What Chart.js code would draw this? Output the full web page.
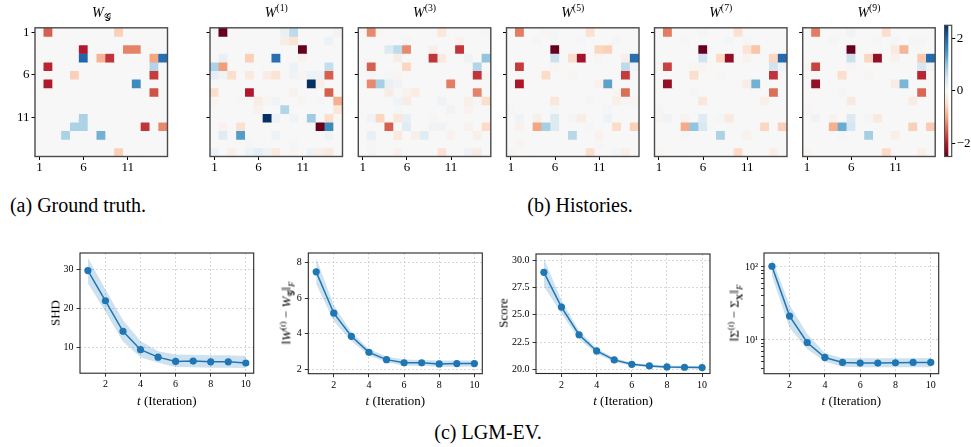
<!DOCTYPE html>
<html>
<head>
<meta charset="utf-8">
<script src="https://cdn.jsdelivr.net/npm/chart.js@4.4.0/dist/chart.umd.min.js"></script>
<style>
  html, body { margin: 0; padding: 0; background: #fff; }
  #fig { position: relative; width: 971px; height: 447px; overflow: hidden;
         font-family: "Liberation Serif", "DejaVu Serif", serif; color: #000; }
  #fig canvas { position: absolute; }
  .lbl { position: absolute; white-space: nowrap; line-height: 1; transform: translate(-50%, -50%); }
  .rot { transform: translate(-50%, -50%) rotate(-90deg); }
  .ttl { font-size: 14px; }
  .axl { font-size: 13px; }
  .cap { font-size: 20px; }
  sup, sub { font-size: 70%; line-height: 0; }
</style>
</head>
<body>
<div id="fig"></div>
<script>
// ---- data ----
const gridSize = 15;
const axisTicks = ['1', '6', '11'];
const colorTicks = [-2, 0, 2];
const vmin = -2.5, vmax = 2.5;

// heatmap entries as [row, col, value]; cells not listed are 0
const wTruth = [
  [0,1,-1.5],[0,9,-0.6],
  [2,5,-2.0],[2,10,-1.25],[2,11,-1.25],
  [3,5,2.0],[3,7,-0.85],[3,8,-1.8],[3,13,-1.0],[3,14,1.9],
  [4,1,-1.9],[4,13,0.75],
  [5,4,-0.6],[5,13,-1.75],
  [6,1,-2.0],[6,11,1.6],
  [7,13,-1.6],
  [10,5,0.8],
  [11,4,0.8],[11,5,0.8],[11,12,-1.8],[11,14,-1.2],
  [12,3,0.8],[12,7,1.2],
  [14,9,-0.6]
];
const w1 = [
  [0,1,-2.5],[0,8,0.2],[0,9,0.65],[0,14,-0.1],
  [1,8,-0.2],[1,9,-0.35],[1,13,0.15],
  [2,10,-2.5],
  [3,1,0.2],[3,4,-0.6],[3,7,1.9],[3,10,-0.1],
  [4,0,0.8],[4,1,-1.05],[4,9,0.15],[4,13,0.6],
  [5,0,0.25],[5,1,0.1],[5,2,-0.45],[5,4,-0.25],[5,6,-0.2],[5,7,-0.35],[5,9,0.1],[5,10,-0.05],[5,11,0.15],[5,12,0.15],[5,13,-1.5],
  [6,11,2.5],[6,12,-0.15],
  [7,0,-0.45],[7,4,-2.0],[7,9,-0.1],[7,13,-1.5],
  [8,0,-0.05],[8,3,0.05],[8,5,-0.2],[8,6,-0.05],[8,7,0.1],[8,10,-0.05],[8,12,0.05],[8,14,-0.9],
  [9,5,-0.1],[9,8,0.75],[9,14,-0.3],
  [10,6,2.5],[10,7,0.15],[10,9,0.1],[10,11,0.9],[10,13,-0.45],
  [11,1,-0.1],[11,3,-0.4],[11,12,-2.5],[11,13,1.6],
  [12,1,0.3],[12,3,1.4],[12,7,0.15],[12,13,0.1],
  [13,4,0.05],[13,9,0.05],
  [14,0,0.15],[14,2,-0.15],[14,4,0.15],[14,5,0.25],[14,6,0.1],[14,7,-0.25],[14,9,-0.05],[14,11,0.15],[14,12,-0.15],[14,13,-0.25]
];
const w3 = [
  [0,1,-1.2],[0,2,-0.05],[0,9,-0.3],[0,14,-0.05],
  [1,5,0.05],[1,11,-0.1],
  [2,3,0.35],[2,4,0.65],[2,5,-1.2],[2,8,-0.15],[2,11,-1.8],
  [3,4,-0.2],[3,8,-1.8],[3,9,-0.25],[3,12,0.1],[3,14,1.0],
  [4,1,-1.5],[4,5,-0.55],[4,13,0.75],
  [5,1,0.05],[5,3,0.05],[5,4,-0.05],[5,13,-1.8],[5,14,-0.05],
  [6,1,-1.2],[6,2,0.85],[6,3,0.2],[6,4,0.1],[6,10,-1.3],
  [7,3,-0.2],[7,5,-0.1],[7,6,-0.2],[7,13,-1.25],
  [8,4,0.1],[8,5,-0.2],[8,9,0.1],[8,12,-0.15],[8,13,0.05],[8,14,-0.45],
  [9,4,0.05],[9,10,0.1],[9,12,-0.1],
  [10,1,0.1],[10,2,-0.55],[10,4,-0.3],[10,5,0.2],[10,8,-0.05],
  [11,3,-1.5],[11,5,0.3],[11,8,0.1],[11,9,0.1],[11,12,-0.1],[11,14,-0.5],
  [12,1,0.2],[12,4,-0.25],[12,6,-0.15],[12,7,0.3],[12,10,-0.1],[12,13,-0.15],
  [13,1,-0.05],
  [14,1,0.05],[14,4,-0.1],[14,9,-0.35],[14,12,0.15],[14,13,-0.2]
];
const w5 = [
  [0,1,-1.3],[0,4,-0.05],[0,5,0.05],[0,9,-0.4],
  [1,3,0.05],[1,5,0.05],[1,8,0.05],[1,12,0.05],
  [2,5,-2.5],[2,10,-0.55],[2,11,-0.6],
  [3,5,0.55],[3,7,-0.45],[3,8,-2.1],[3,10,-0.05],[3,13,-0.15],[3,14,1.9],
  [4,1,-1.75],[4,5,-0.05],[4,13,0.65],[4,14,0.1],
  [5,4,-0.5],[5,7,-0.05],[5,13,-1.75],
  [6,1,-2.05],[6,10,-0.1],[6,11,1.35],
  [7,12,-0.05],[7,13,-1.4],
  [8,5,-0.3],[8,9,0.05],[8,12,-0.15],[8,13,0.05],[8,14,-0.05],
  [9,0,-0.05],[9,5,0.05],[9,11,0.05],
  [10,1,0.1],[10,3,-0.15],[10,5,0.35],[10,7,0.05],[10,8,-0.2],[10,11,0.15],
  [11,1,-0.1],[11,3,-1.0],[11,4,0.85],[11,5,0.35],[11,9,0.05],[11,12,-0.5],[11,14,-0.6],
  [12,7,0.7],[12,10,-0.1],
  [13,1,-0.05],[13,10,-0.05],
  [14,0,-0.05],[14,9,-0.45],[14,12,0.05],[14,13,-0.15]
];
const w7 = [
  [0,1,-1.3],[0,5,0.05],[0,9,-0.4],
  [1,3,0.05],[1,8,0.05],[1,10,0.05],
  [2,5,-2.5],[2,10,-0.35],[2,11,-0.7],
  [3,5,0.5],[3,7,-0.5],[3,8,-2.2],[3,10,-0.1],[3,13,-0.55],[3,14,1.95],
  [4,0,-0.05],[4,1,-1.7],[4,4,-0.05],[4,5,-0.05],[4,13,0.5],[4,14,0.1],
  [5,4,-0.45],[5,7,-0.05],[5,13,-1.8],
  [6,1,-2.2],[6,10,-0.2],[6,11,1.2],
  [7,4,0.05],[7,13,-1.4],
  [8,5,-0.3],[8,12,-0.15],
  [9,0,-0.05],
  [10,0,-0.05],[10,1,0.1],[10,3,-0.1],[10,5,0.3],[10,7,0.05],[10,8,-0.25],
  [11,3,-0.95],[11,4,1.0],[11,5,0.4],[11,12,-0.55],[11,14,-0.6],
  [12,3,0.05],[12,7,0.8],[12,10,-0.1],
  [14,0,-0.05],[14,9,-0.5],[14,13,-0.15]
];
const w9 = [
  [0,1,-1.3],[0,5,0.1],[0,9,-0.45],
  [1,3,0.05],[1,8,0.05],[1,10,0.05],[1,12,0.05],[1,13,-0.05],
  [2,5,-2.5],[2,10,-0.25],[2,11,-0.85],
  [3,5,0.55],[3,7,-0.55],[3,8,-2.2],[3,10,-0.1],[3,13,-0.65],[3,14,1.95],
  [4,0,-0.05],[4,1,-1.7],[4,5,-0.05],[4,13,0.45],[4,14,0.1],
  [5,4,-0.45],[5,7,-0.05],[5,13,-1.9],
  [6,1,-2.2],[6,10,-0.2],[6,11,1.15],
  [7,4,0.05],[7,13,-1.45],
  [8,5,-0.25],[8,12,-0.2],
  [9,0,-0.05],
  [10,1,0.1],[10,3,-0.1],[10,5,0.35],[10,7,0.05],[10,8,-0.25],
  [11,3,-0.9],[11,4,1.25],[11,5,0.45],[11,12,-0.6],[11,14,-0.65],
  [12,4,0.05],[12,7,0.85],[12,10,-0.15],
  [14,0,-0.05],[14,9,-0.5],[14,13,-0.15]
];

// LGM-EV curves: mean and shaded band per iteration
const iterations = [1, 2, 3, 4, 5, 6, 7, 8, 9, 10];
const iterTicks = [2, 4, 6, 8, 10];
const shdMean  = [29.6, 21.9, 14.1, 9.4, 7.5, 6.4, 6.5, 6.3, 6.3, 6.0];
const shdUpper = [32.9, 24.8, 16.9, 11.6, 9.0, 8.2, 8.1, 8.0, 8.0, 7.8];
const shdLower = [26.4, 19.1, 11.5, 7.5, 6.1, 5.0, 4.9, 4.8, 4.8, 4.7];
const shdTicks = [10, 20, 30];
const errMean  = [7.48, 5.16, 3.86, 2.96, 2.55, 2.37, 2.37, 2.31, 2.33, 2.33];
const errUpper = [8.25, 5.6, 4.1, 3.15, 2.72, 2.56, 2.53, 2.5, 2.5, 2.5];
const errLower = [6.8, 4.7, 3.6, 2.78, 2.4, 2.2, 2.2, 2.15, 2.15, 2.15];
const errTicks = [2, 4, 6, 8];
const scoreMean  = [28.88, 25.7, 23.18, 21.7, 20.88, 20.48, 20.33, 20.24, 20.21, 20.18];
const scoreUpper = [30.15, 26.3, 23.55, 21.95, 21.05, 20.62, 20.45, 20.36, 20.33, 20.3];
const scoreLower = [27.6, 25.1, 22.8, 21.45, 20.7, 20.34, 20.2, 20.12, 20.09, 20.06];
const scoreTicks = [20, 22.5, 25, 27.5, 30];
const covMean  = [102, 21.2, 9.2, 5.74, 4.91, 4.81, 4.81, 4.86, 4.91, 4.91];
const covUpper = [130, 30, 12, 6.6, 5.6, 5.6, 5.6, 5.6, 5.6, 5.7];
const covLower = [75, 14.5, 7.5, 5.0, 4.3, 4.2, 4.2, 4.2, 4.2, 4.2];
const covTicks = [4, 5, 6, 7, 8, 9, 10, 20, 30, 40, 50, 60, 70, 80, 90, 100];
const covMajor = [10, 100];

// ---- styling ----
const serif = 'Liberation Serif';
const rdbu = ['#67001f','#b2182b','#d6604d','#f4a582','#fddbc7','#f7f7f7','#d1e5f0','#92c5de','#4393c3','#2166ac','#053061'];
const lineColor = '#1f77b4';
const bandColor = 'rgba(31,119,180,0.22)';
const gridColor = '#cfcfcf';

function hexRgb(h) {
  const n = parseInt(h.slice(1), 16);
  return [(n >> 16) & 255, (n >> 8) & 255, n & 255];
}
function cmap(v) {
  const t = Math.max(0, Math.min(1, (v - vmin) / (vmax - vmin)));
  const x = t * (rdbu.length - 1);
  const i = Math.min(Math.floor(x), rdbu.length - 2);
  const f = x - i;
  const a = hexRgb(rdbu[i]), b = hexRgb(rdbu[i + 1]);
  return 'rgb(' + a.map((c, k) => Math.round(c + (b[k] - c) * f)).join(',') + ')';
}
function toMatrix(entries) {
  const m = [];
  for (let r = 0; r < gridSize; r++) m.push(new Array(gridSize).fill(0));
  entries.forEach(([r, c, v]) => { m[r][c] = v; });
  return m;
}

// box around the plot area (matplotlib spines)
const framePlugin = {
  id: 'frame',
  beforeDatasetsDraw(chart, args, opts) {
    if (!opts.fill) return;
    const a = chart.chartArea, ctx = chart.ctx;
    ctx.save();
    ctx.fillStyle = opts.fill;
    ctx.fillRect(a.left, a.top, a.width, a.height);
    ctx.restore();
  },
  afterDraw(chart, args, opts) {
    const a = chart.chartArea, ctx = chart.ctx;
    ctx.save();
    ctx.strokeStyle = opts.color || '#000';
    ctx.lineWidth = opts.width || 1;
    ctx.strokeRect(a.left, a.top, a.width, a.height);
    ctx.restore();
  }
};

const fig = document.getElementById('fig');
function place(rect, axisLeft, axisBottom, padTop, padRight) {
  const x0 = Math.floor(rect.left - axisLeft);
  const y0 = Math.floor(rect.top - padTop);
  const w = Math.ceil(rect.left + rect.width + padRight - x0);
  const h = Math.ceil(rect.top + rect.height + axisBottom - y0);
  const c = document.createElement('canvas');
  c.width = w; c.height = h;
  c.style.left = x0 + 'px'; c.style.top = y0 + 'px';
  c.style.width = w + 'px'; c.style.height = h + 'px';
  fig.appendChild(c);
  return {
    canvas: c,
    left: rect.left - x0,
    top: rect.top - y0,
    right: w - (rect.left - x0) - rect.width,
    bottom: h - (rect.top - y0) - rect.height
  };
}
function addLabel(html, x, y, cls) {
  const d = document.createElement('div');
  d.className = 'lbl ' + cls;
  d.innerHTML = html;
  d.style.left = x + 'px';
  d.style.top = y + 'px';
  fig.appendChild(d);
}
const baseOptions = {
  responsive: false,
  maintainAspectRatio: false,
  devicePixelRatio: 1,
  animation: false,
  events: [],
  plugins: { legend: { display: false }, tooltip: { enabled: false }, title: { display: false } }
};

// ---- heatmaps ----
function heatmap(rect, entries, showYLabels) {
  const p = place(rect, showYLabels ? 30 : 8, 26, 6, 4);
  const m = toMatrix(entries);
  const labels = [];
  for (let i = 1; i <= gridSize; i++) labels.push(String(i));
  const datasets = m.map((row, r) => ({
    data: row.map(() => [r, r + 1]),
    backgroundColor: row.map(cmap),
    borderWidth: 0,
    grouped: false,
    barPercentage: 1,
    categoryPercentage: 1
  }));
  const tickFont = { family: serif, size: 13 };
  new Chart(p.canvas, {
    type: 'bar',
    data: { labels, datasets },
    options: Object.assign({}, baseOptions, {
      layout: { padding: { top: p.top, right: p.right, left: 0, bottom: 0 } },
      plugins: Object.assign({}, baseOptions.plugins, { frame: { color: '#4a4a4a', width: 1.4, fill: rdbu[5] } }),
      scales: {
        x: {
          type: 'category',
          offset: true,
          ticks: {
            autoSkip: false, maxRotation: 0, padding: 0, color: '#000', font: tickFont,
            callback: (v, i) => axisTicks.includes(labels[i]) ? labels[i] : ''
          },
          grid: {
            drawOnChartArea: false, offset: false, tickLength: 3.5, tickWidth: 1,
            tickColor: ctx => axisTicks.includes(labels[ctx.index]) ? '#000' : 'rgba(0,0,0,0)'
          },
          border: { display: false },
          afterFit: s => { s.height = p.bottom; }
        },
        y: {
          type: 'linear', min: 0, max: gridSize, reverse: true,
          afterBuildTicks: s => { s.ticks = axisTicks.map(t => ({ value: Number(t) - 0.5 })); },
          ticks: {
            autoSkip: false, padding: 2, color: '#000', font: tickFont,
            callback: v => showYLabels ? String(v + 0.5) : ''
          },
          grid: { drawOnChartArea: false, tickLength: 3.5, tickColor: '#000', tickWidth: 1 },
          border: { display: false },
          afterFit: s => { s.width = p.left; }
        }
      }
    }),
    plugins: [framePlugin]
  });
}

const heatTop = 24, heatSize = 132.5;
const heatPanels = [
  { left: 35,    data: wTruth, yl: true,  title: '<i>W</i><sub>𝒢</sub>' },
  { left: 210,   data: w1,     yl: false, title: '<i>W</i><sup>(1)</sup>' },
  { left: 358.3, data: w3,     yl: false, title: '<i>W</i><sup>(3)</sup>' },
  { left: 506.5, data: w5,     yl: false, title: '<i>W</i><sup>(5)</sup>' },
  { left: 654.5, data: w7,     yl: false, title: '<i>W</i><sup>(7)</sup>' },
  { left: 802.7, data: w9,     yl: false, title: '<i>W</i><sup>(9)</sup>' }
];
heatPanels.forEach(h => {
  heatmap({ left: h.left, top: heatTop, width: heatSize, height: heatSize }, h.data, h.yl);
  addLabel(h.title, h.left + heatSize / 2, 13, 'ttl');
});

// ---- colorbar ----
(function () {
  const rect = { left: 944.3, top: heatTop, width: 7.4, height: heatSize };
  const x0 = Math.floor(rect.left);
  const c = document.createElement('canvas');
  const w = 971 - x0, h = 170, y0 = 16;
  c.width = w; c.height = h;
  c.style.left = x0 + 'px'; c.style.top = y0 + 'px';
  c.style.width = w + 'px'; c.style.height = h + 'px';
  fig.appendChild(c);
  const padLeft = rect.left - x0, padTop = rect.top - y0;
  const axisW = w - padLeft - rect.width;
  new Chart(c, {
    type: 'bar',
    data: {
      labels: [''],
      datasets: [{
        data: [[vmin, vmax]],
        borderWidth: 0,
        barPercentage: 1,
        categoryPercentage: 1,
        backgroundColor: ctx => {
          const a = ctx.chart.chartArea;
          if (!a) return rdbu[5];
          const g = ctx.chart.ctx.createLinearGradient(0, a.bottom, 0, a.top);
          rdbu.forEach((col, i) => g.addColorStop(i / (rdbu.length - 1), col));
          return g;
        }
      }]
    },
    options: Object.assign({}, baseOptions, {
      layout: { padding: { top: padTop, left: padLeft, right: 0, bottom: h - padTop - rect.height } },
      plugins: Object.assign({}, baseOptions.plugins, { frame: { color: '#4a4a4a', width: 1.2 } }),
      scales: {
        x: { display: false, offset: false },
        y: {
          position: 'right', min: vmin, max: vmax,
          afterBuildTicks: s => { s.ticks = colorTicks.map(v => ({ value: v })); },
          ticks: { autoSkip: false, padding: 1.5, color: '#000', font: { family: serif, size: 13 },
                   callback: v => v < 0 ? '\u2212' + Math.abs(v) : String(v) },
          grid: { drawOnChartArea: false, tickLength: 3.5, tickColor: '#000' },
          border: { display: false },
          afterFit: s => { s.width = axisW; }
        }
      }
    }),
    plugins: [framePlugin]
  });
})();

// ---- line charts ----
function lineChart(rect, mean, upper, lower, yScale) {
  const p = place(rect, 34, 22, 8, 12);
  const pts = arr => iterations.map((t, i) => ({ x: t, y: arr[i] }));
  const tickFont = { family: serif, size: 10 };
  const y = Object.assign({
    ticks: { autoSkip: false, padding: 3, color: '#000', font: tickFont },
    grid: { color: gridColor, lineWidth: 0.8, tickLength: 3.5, tickColor: '#000', tickWidth: 0.8 },
    border: { display: false, dash: [2, 2] },
    afterFit: s => { s.width = p.left; }
  }, yScale);
  new Chart(p.canvas, {
    type: 'line',
    data: {
      datasets: [
        { data: pts(upper), fill: '+1', backgroundColor: bandColor, borderColor: 'rgba(0,0,0,0)', borderWidth: 0, pointRadius: 0 },
        { data: pts(lower), fill: false, borderColor: 'rgba(0,0,0,0)', borderWidth: 0, pointRadius: 0 },
        { data: pts(mean), fill: false, borderColor: lineColor, backgroundColor: lineColor, borderWidth: 1.5,
          pointRadius: 3.6, pointBorderWidth: 0, tension: 0 }
      ]
    },
    options: Object.assign({}, baseOptions, {
      layout: { padding: { top: p.top, right: p.right, left: 0, bottom: 0 } },
      plugins: Object.assign({}, baseOptions.plugins, { frame: { color: '#262626', width: 1.1 } }),
      scales: {
        x: {
          type: 'linear', min: 0.55, max: 10.45,
          afterBuildTicks: s => { s.ticks = iterTicks.map(v => ({ value: v })); },
          ticks: { autoSkip: false, padding: 2, maxRotation: 0, color: '#000', font: tickFont },
          grid: { color: gridColor, lineWidth: 0.8, tickLength: 3.5, tickColor: '#000', tickWidth: 0.8 },
          border: { display: false, dash: [2, 2] },
          afterFit: s => { s.height = p.bottom; }
        },
        y
      }
    }),
    plugins: [framePlugin]
  });
}

const fixedTicks = list => s => { s.ticks = list.map(v => ({ value: v })); };

lineChart({ left: 80, top: 252.7, width: 173.7, height: 120.5 }, shdMean, shdUpper, shdLower, {
  type: 'linear', min: 3.4, max: 34.1, afterBuildTicks: fixedTicks(shdTicks)
});
lineChart({ left: 308.3, top: 252.7, width: 174, height: 121 }, errMean, errUpper, errLower, {
  type: 'linear', min: 1.76, max: 8.54, afterBuildTicks: fixedTicks(errTicks)
});
lineChart({ left: 536, top: 253, width: 174, height: 120.5 }, scoreMean, scoreUpper, scoreLower, {
  type: 'linear', min: 19.64, max: 30.55, afterBuildTicks: fixedTicks(scoreTicks),
  ticks: { autoSkip: false, padding: 3, color: '#000', font: { family: serif, size: 10 }, callback: v => v.toFixed(1) }
});
lineChart({ left: 764, top: 252.7, width: 174.7, height: 121 }, covMean, covUpper, covLower, {
  type: 'logarithmic', min: 3.44, max: 155, afterBuildTicks: fixedTicks(covTicks),
  ticks: { autoSkip: false, padding: 3, color: '#000', font: { family: serif, size: 10 },
           callback: v => v === 10 ? '10\u00b9' : (v === 100 ? '10\u00b2' : '') },
  grid: { color: ctx => (ctx.tick && covMajor.includes(ctx.tick.value)) ? gridColor : 'rgba(0,0,0,0)',
          lineWidth: 0.8, tickLength: 3, tickColor: '#000', tickWidth: 0.8 }
});

// ---- axis labels and captions ----
const xLabel = '<i>t</i> (Iteration)';
[[80, 173.7], [308.3, 174], [536, 174], [764, 174.7]].forEach(([l, w]) => addLabel(xLabel, l + w / 2, 400, 'axl'));
addLabel('SHD', 55, 313, 'axl rot');
addLabel('\u2016<i>W</i><sup>(<i>t</i>)</sup> \u2212 <i>W</i><sub>𝒢</sub>\u2016<sub><i>F</i></sub>', 286, 313, 'axl rot');
addLabel('Score', 503, 313, 'axl rot');
addLabel('\u2016\u03a3<sup>(<i>t</i>)</sup> \u2212 \u03a3<sub><b>X</b></sub>\u2016<sub><i>F</i></sub>', 734, 313, 'axl rot');

addLabel('(a) Ground truth.', 78, 205, 'cap');
addLabel('(b) Histories.', 580, 205, 'cap');
addLabel('(c) LGM-EV.', 488, 432, 'cap');
</script>
</body>
</html>
